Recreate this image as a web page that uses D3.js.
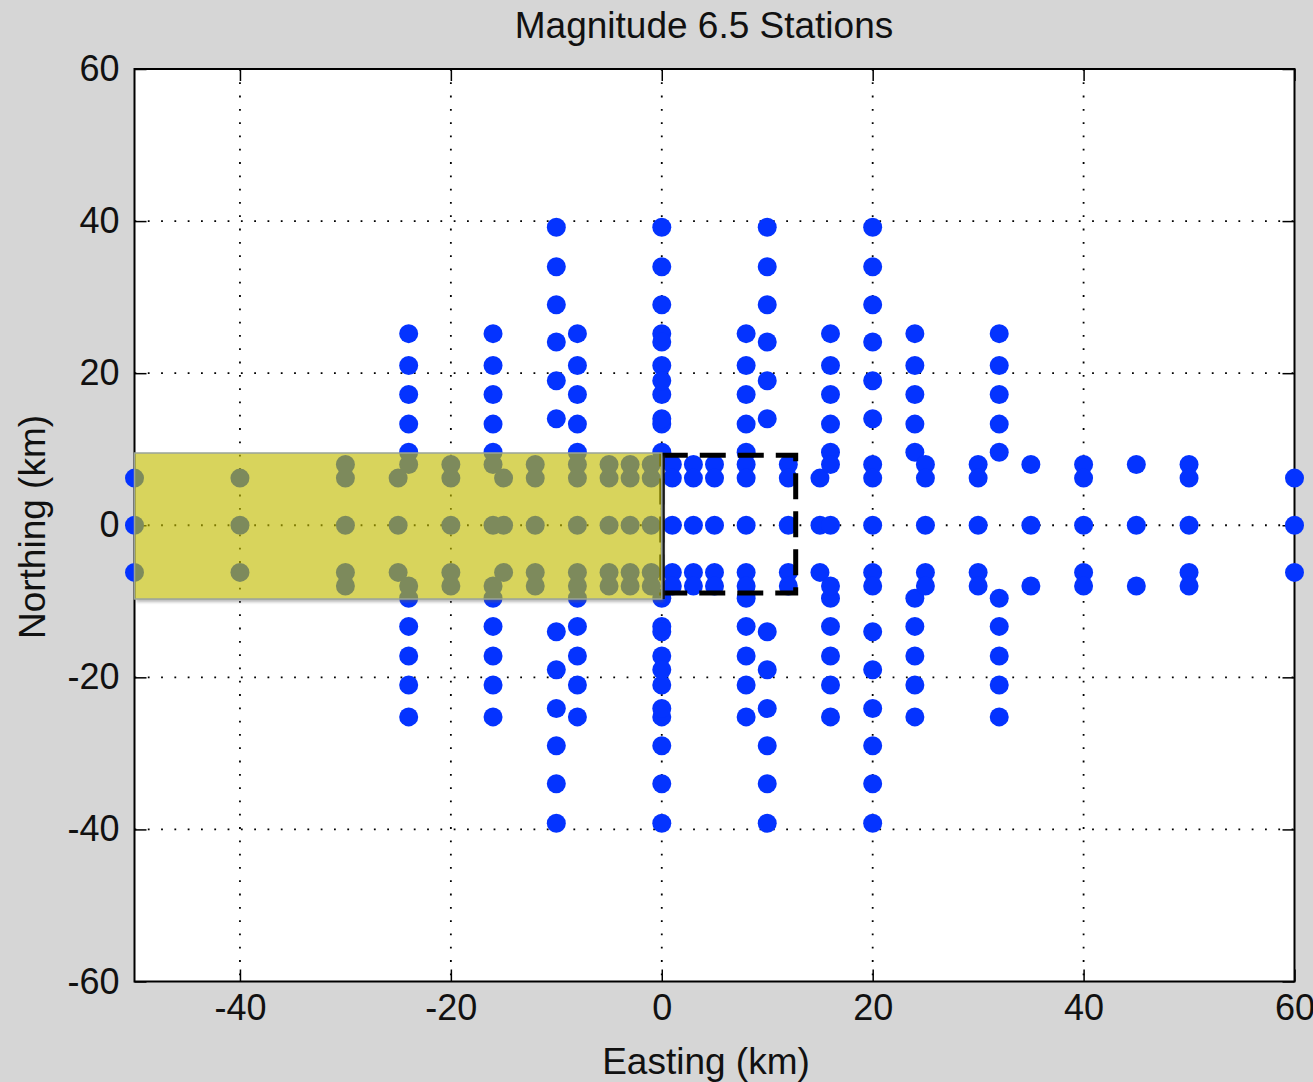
<!DOCTYPE html>
<html>
<head>
<meta charset="utf-8">
<script src="https://cdn.jsdelivr.net/npm/d3@7"></script>
<style>
  body { margin: 0; background: #d6d6d6; }
  svg { display: block; }
  text { font-family: "Liberation Sans", Arial, sans-serif; fill: #111; }
</style>
</head>
<body>
<svg id="chart" width="1313" height="1082"></svg>
<script>
// station layout (km)
const gridEast = [-24, -16, -8, 0, 8, 16, 24, 32];
const gridNorth = [25.2, 21.0, 17.2, 13.3, 9.6, -9.6, -13.3, -17.2, -21.0, -25.2];
const lineEast = [-10, 0, 10, 20];
const lineNorth = [39.2, 34.0, 29.0, 24.1, 19.0, 14.0, -14.0, -19.0, -24.1, -29.0, -34.0, -39.2];
const nearEast = [-50, -40, -30, -25, -24, -20, -16, -15, -12, -8, -5, -3, -1,
                  1, 3, 5, 8, 12, 15, 16, 20, 25, 30, 35, 40, 45, 50, 60];
const nearNorth = [
  [6.2, 0, -6.2], [6.2, 0, -6.2], [8, 6.2, 0, -6.2, -8], [6.2, 0, -6.2], [8, -8],
  [8, 6.2, 0, -6.2, -8], [8, 0, -8], [6.2, 0, -6.2], [8, 6.2, 0, -6.2, -8],
  [8, 6.2, 0, -6.2, -8], [8, 6.2, 0, -6.2, -8], [8, 6.2, 0, -6.2, -8], [8, 6.2, 0, -6.2, -8],
  [8, 6.2, 0, -6.2, -8], [8, 6.2, 0, -6.2, -8], [8, 6.2, 0, -6.2, -8], [8, 6.2, 0, -6.2, -8],
  [8, 6.2, 0, -6.2, -8], [6.2, 0, -6.2], [8, 0, -8], [8, 6.2, 0, -6.2, -8],
  [8, 6.2, 0, -6.2, -8], [8, 6.2, 0, -6.2, -8], [8, 0, -8], [8, 6.2, 0, -6.2, -8],
  [8, 0, -8], [8, 6.2, 0, -6.2, -8], [6.2, 0, -6.2]
];
// fault plane (shaded) and hypocentre box
const faultEast = [-50, 0];
const faultNorth = [-9.7, 9.5];
const boxEast = [0, 12.7];
const boxNorth = [-8.9, 9.2];

const xTicks = [-40, -20, 0, 20, 40, 60];
const yTicks = [-60, -40, -20, 0, 20, 40, 60];

const svg = d3.select("#chart");
const pLeft = 134.5, pRight = 1294.5, pTop = 69, pBottom = 981.5;

const x = d3.scaleLinear().domain([-50, 60]).range([pLeft, pRight]);
const y = d3.scaleLinear().domain([-60, 60]).range([pBottom, pTop]);

let stations = [];
gridEast.forEach(e => gridNorth.forEach(n => stations.push([e, n])));
lineEast.forEach(e => lineNorth.forEach(n => stations.push([e, n])));
nearEast.forEach((e, i) => nearNorth[i].forEach(n => stations.push([e, n])));

const fx = x(faultEast[0]), fy = y(faultNorth[1]);
const fw = x(faultEast[1]) - fx, fh = y(faultNorth[0]) - fy;

const defs = svg.append("defs");
defs.append("filter").attr("id", "blur")
  .append("feGaussianBlur").attr("stdDeviation", 1.6);
const mask = defs.append("mask").attr("id", "outside");
mask.append("rect").attr("width", 1313).attr("height", 1082).attr("fill", "#fff");
mask.append("rect").attr("x", fx).attr("y", fy).attr("width", fw).attr("height", fh).attr("fill", "#000");

// plot area
svg.append("rect")
  .attr("x", pLeft).attr("y", pTop)
  .attr("width", pRight - pLeft).attr("height", pBottom - pTop)
  .attr("fill", "#fff");

// dotted grid
const grid = svg.append("g")
  .attr("stroke", "#000").attr("stroke-width", 1.8).attr("stroke-dasharray", "1.8,11.5");
grid.selectAll(".gx").data(xTicks.filter(d => d < 60)).enter().append("line")
  .attr("x1", d => x(d)).attr("x2", d => x(d)).attr("y1", pTop).attr("y2", pBottom);
grid.selectAll(".gy").data(yTicks.filter(d => d > -60 && d < 60)).enter().append("line")
  .attr("y1", d => y(d)).attr("y2", d => y(d)).attr("x1", pLeft).attr("x2", pRight);

// axes, ticks inside
const fmt = d => String(d);
const ax = svg.append("g").attr("class", "axes");
ax.append("g").attr("transform", "translate(0," + pBottom + ")")
  .call(d3.axisBottom(x).tickValues(xTicks).tickFormat(fmt).tickSize(-12).tickPadding(13));
ax.append("g").attr("transform", "translate(0," + pTop + ")")
  .call(d3.axisTop(x).tickValues(xTicks).tickFormat("").tickSize(-12));
ax.append("g").attr("transform", "translate(" + pLeft + ",0)")
  .call(d3.axisLeft(y).tickValues(yTicks).tickFormat(fmt).tickSize(-12).tickPadding(15));
ax.append("g").attr("transform", "translate(" + pRight + ",0)")
  .call(d3.axisRight(y).tickValues(yTicks).tickFormat("").tickSize(-12));
ax.selectAll(".domain").remove();
ax.selectAll(".tick line").attr("stroke", "#000").attr("stroke-width", 1.5);
ax.selectAll(".tick text")
  .style("font-family", "'Liberation Sans', Arial, sans-serif")
  .style("font-size", "36px").attr("fill", "#111");

svg.append("rect")
  .attr("x", pLeft).attr("y", pTop)
  .attr("width", pRight - pLeft).attr("height", pBottom - pTop)
  .attr("fill", "none").attr("stroke", "#000").attr("stroke-width", 2);

// stations
svg.append("g").selectAll("circle").data(stations).enter().append("circle")
  .attr("cx", d => x(d[0]))
  .attr("cy", d => y(d[1]))
  .attr("r", 9.5)
  .attr("fill", "#0433ff");

// dashed box
svg.append("rect")
  .attr("x", x(boxEast[0])).attr("y", y(boxNorth[1]))
  .attr("width", x(boxEast[1]) - x(boxEast[0]))
  .attr("height", y(boxNorth[0]) - y(boxNorth[1]))
  .attr("fill", "none").attr("stroke", "#000").attr("stroke-width", 5)
  .attr("stroke-dasharray", "26,12");
svg.append("line")
  .attr("x1", x(0) + 1).attr("x2", x(0) + 1)
  .attr("y1", y(faultNorth[1])).attr("y2", y(faultNorth[0]))
  .attr("stroke", "#000").attr("stroke-width", 4);

// fault plane with a soft shadow outside it
svg.append("rect")
  .attr("x", fx + 2).attr("y", fy + 3).attr("width", fw).attr("height", fh)
  .attr("fill", "#666").attr("fill-opacity", 0.45)
  .attr("filter", "url(#blur)").attr("mask", "url(#outside)");
svg.append("rect")
  .attr("x", fx).attr("y", fy).attr("width", fw).attr("height", fh)
  .attr("fill", "rgb(194,188,0)").attr("fill-opacity", 0.64)
  .attr("stroke", "#9aa49a").attr("stroke-width", 1.5);

// titles
svg.append("text").attr("x", 704).attr("y", 38)
  .attr("text-anchor", "middle").style("font-size", "37px")
  .text("Magnitude 6.5 Stations");
svg.append("text").attr("x", 706).attr("y", 1074)
  .attr("text-anchor", "middle").style("font-size", "37px")
  .text("Easting (km)");
svg.append("text").attr("transform", "translate(45,527) rotate(-90)")
  .attr("text-anchor", "middle").style("font-size", "37px")
  .text("Northing (km)");
</script>
</body>
</html>
